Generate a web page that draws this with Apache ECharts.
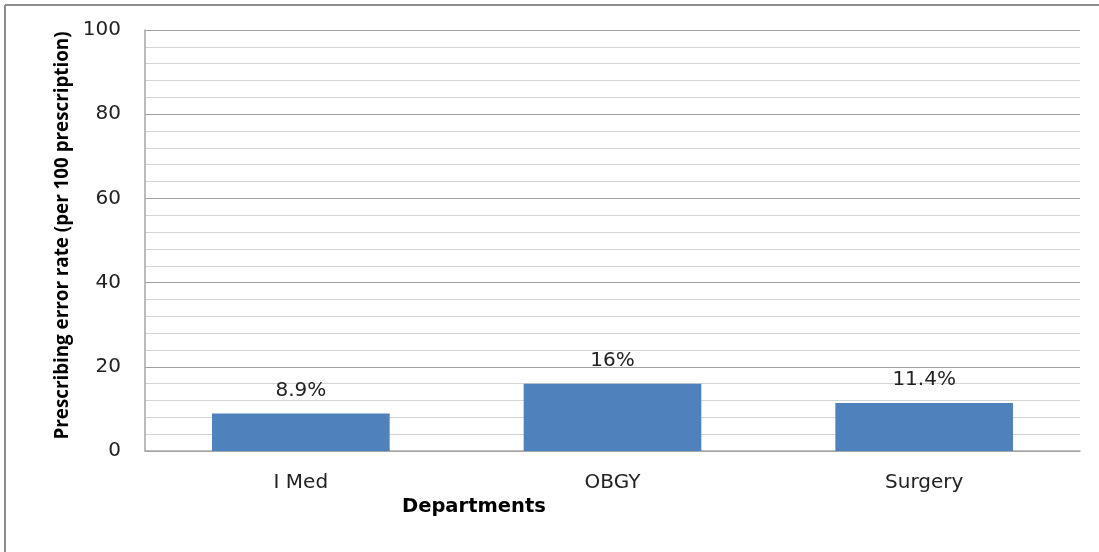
<!DOCTYPE html>
<html>
<head>
<meta charset="utf-8">
<script src="https://cdn.jsdelivr.net/npm/echarts@6/dist/echarts.min.js"></script>
<style>
html,body{margin:0;padding:0;background:#fff;}
#main{width:1099px;height:552px;}
</style>
</head>
<body>
<div id="main"></div>
<script>
const categories = ['I Med', 'OBGY', 'Surgery'];
const errorRates = [8.9, 16, 11.4];
const yTicks = [0, 20, 40, 60, 80, 100];

const chart = echarts.init(document.getElementById('main'));
const FONT = '"DejaVu Sans", "Liberation Sans", sans-serif';
const NAMEFONT = '"Open Sans", "Liberation Sans", sans-serif';
chart.setOption({
  backgroundColor: '#ffffff',
  animation: false,
  grid: { left: 145, right: 19, top: 30, bottom: 101 },
  xAxis: {
    type: 'category',
    data: categories,
    axisLine: { show: true, lineStyle: { color: '#a6a6a6', width: 1.5 } },
    axisTick: { show: false },
    axisLabel: { fontFamily: FONT, fontSize: 20, color: '#222', margin: 22 }
  },
  yAxis: {
    type: 'value',
    min: yTicks[0],
    max: yTicks[yTicks.length - 1],
    interval: 20,
    name: 'Prescribing error rate (per 100 prescription)',
    nameLocation: 'middle',
    nameGap: 73,
    nameTextStyle: { fontFamily: NAMEFONT, fontSize: 18.8, fontWeight: 'bold', color: '#000', padding: [0, 0, 0, 10] },
    axisLine: { show: true, lineStyle: { color: '#a6a6a6', width: 1.5 } },
    axisTick: { show: false },
    axisLabel: { fontFamily: FONT, fontSize: 20, color: '#222', margin: 24 },
    splitLine: { show: true, lineStyle: { color: '#a0a0a0', width: 1.2 } },
    minorTick: { show: false, splitNumber: 5 },
    minorSplitLine: { show: true, lineStyle: { color: '#d4d4d4', width: 1.2 } }
  },
  series: [{
    type: 'bar',
    data: errorRates,
    barWidth: '57%',
    itemStyle: { color: '#4f81bd' },
    label: {
      show: true,
      position: 'top',
      distance: 13,
      fontFamily: FONT,
      fontSize: 20,
      color: '#222',
      formatter: p => p.value + '%'
    }
  }],
  graphic: [
    { type: 'line', shape: { x1: 5, y1: 5, x2: 1099, y2: 5 }, style: { stroke: '#8c8c8c', lineWidth: 2 } },
    { type: 'line', shape: { x1: 5, y1: 5, x2: 5, y2: 552 }, style: { stroke: '#8c8c8c', lineWidth: 2 } },
    { type: 'text', left: 402, top: 497, style: { text: 'Departments', fontFamily: FONT, fontSize: 19.5, fontWeight: 'bold', fill: '#000' } }
  ]
});
</script>
</body>
</html>
